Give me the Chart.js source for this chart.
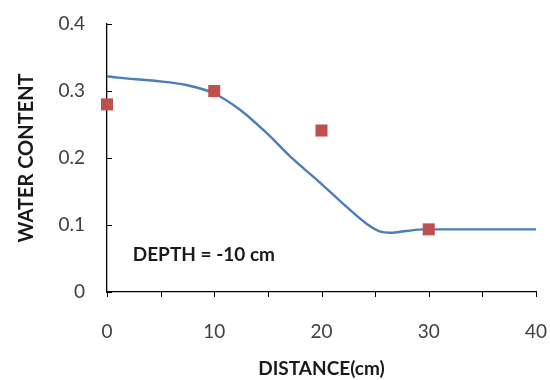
<!DOCTYPE html>
<html>
<head>
<meta charset="utf-8">
<script src="https://cdn.jsdelivr.net/npm/chart.js@4.4.1/dist/chart.umd.min.js"></script>
<style>
  html, body { margin: 0; padding: 0; background: #fff; }
  #wrap { width: 550px; height: 380px; }
</style>
</head>
<body>
<div id="wrap"><canvas id="chart" width="550" height="380"></canvas></div>
<script>
// simulated curve (blue line)
const curveX = [0, 1, 4.6, 7.4, 9.9, 12.4, 14.9, 17.1, 19.6, 22.0, 24.2, 25.5, 26.4, 27.9, 29.5, 40];
const curveY = [0.322, 0.320, 0.315, 0.309, 0.297, 0.272, 0.237, 0.202, 0.167, 0.132, 0.102, 0.090, 0.0885, 0.091, 0.0935, 0.0935];

// measured points (red squares)
const measX = [0, 10, 20, 30];
const measY = [0.28, 0.30, 0.241, 0.0935];

const yTicks = [0, 0.1, 0.2, 0.3, 0.4];
const xTicks = [0, 10, 20, 30, 40];
const xMinor = [5, 15, 25, 35];
const noteText = 'DEPTH = -10 cm';
const notePos = [2.4, 0.055];

const font = 'Lato, "Open Sans", sans-serif';

// Excel-style tick marks (y inward, x outward) + the depth note
const extras = {
    id: 'extras',
    afterDatasetsDraw(chart) {
        const c = chart.ctx;
        const xs = chart.scales.x, ys = chart.scales.y;
        c.save();
        c.strokeStyle = '#000';
        c.lineWidth = 1;
        yTicks.forEach(v => {
            const py = Math.round(ys.getPixelForValue(v)) + 0.5;
            c.beginPath();
            c.moveTo(xs.left, py);
            c.lineTo(xs.left + 5, py);
            c.stroke();
        });
        xTicks.concat(xMinor).forEach(v => {
            const px = Math.round(xs.getPixelForValue(v)) + 0.5;
            c.beginPath();
            c.moveTo(px, ys.bottom);
            c.lineTo(px, ys.bottom + 5);
            c.stroke();
        });
        c.fillStyle = '#1a1a1a';
        c.font = 'bold 19px ' + font;
        c.textBaseline = 'middle';
        c.fillText(noteText, xs.getPixelForValue(notePos[0]), ys.getPixelForValue(notePos[1]));
        c.restore();
    }
};

new Chart(document.getElementById('chart'), {
    type: 'scatter',
    data: {
        datasets: [{
            label: 'simulated',
            data: curveX.map((x, i) => ({x: x, y: curveY[i]})),
            showLine: true,
            borderColor: '#4a7ebb',
            borderWidth: 2.4,
            pointRadius: 0,
            cubicInterpolationMode: 'monotone',
            order: 2
        }, {
            label: 'measured',
            data: measX.map((x, i) => ({x: x, y: measY[i]})),
            pointStyle: 'rect',
            pointRadius: 8.5,
            backgroundColor: '#c0504d',
            borderColor: '#c0504d',
            borderWidth: 0,
            clip: false,
            order: 1
        }]
    },
    options: {
        responsive: false,
        animation: false,
        layout: { padding: { top: 24, right: 14, left: 0, bottom: 0 } },
        plugins: { legend: { display: false }, tooltip: { enabled: false } },
        scales: {
            x: {
                min: 0, max: 40,
                afterFit(s) { s.height = 88; },
                afterBuildTicks(s) { s.ticks = xTicks.map(v => ({value: v})); },
                grid: { drawOnChartArea: false, tickLength: 28, tickColor: 'rgba(0,0,0,0)' },
                border: { color: '#000', width: 1.3 },
                ticks: {
                    padding: 0,
                    color: '#404040',
                    font: { family: font, size: 19 }
                },
                title: {
                    display: true,
                    text: 'DISTANCE(cm)',
                    color: '#1a1a1a',
                    font: { family: font, size: 19, weight: 'bold' },
                    padding: { top: 0, bottom: 0 }
                }
            },
            y: {
                min: 0, max: 0.4,
                afterFit(s) { s.width = 107; },
                afterBuildTicks(s) { s.ticks = yTicks.map(v => ({value: v})); },
                grid: { drawOnChartArea: false, tickLength: 20, tickColor: 'rgba(0,0,0,0)' },
                border: { color: '#000', width: 1.3 },
                ticks: {
                    padding: 2,
                    color: '#404040',
                    font: { family: font, size: 19 },
                    callback: v => String(v)
                },
                title: {
                    display: true,
                    text: 'WATER CONTENT',
                    color: '#1a1a1a',
                    font: { family: font, size: 20, weight: 'bold' },
                    padding: { top: 15, bottom: 0 }
                }
            }
        }
    },
    plugins: [extras]
});
</script>
</body>
</html>
